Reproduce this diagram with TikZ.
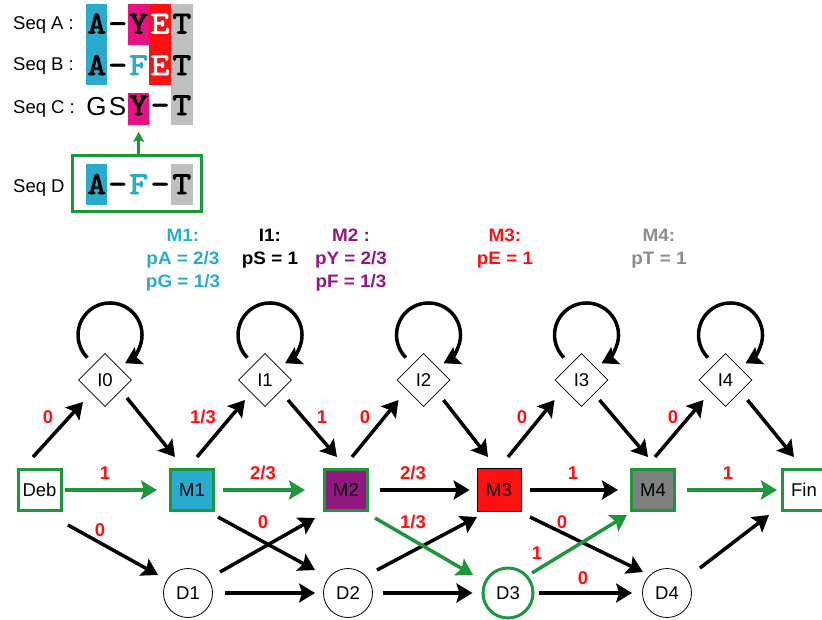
\documentclass[tikz,border=0pt]{standalone}
\usepackage{fontspec}
\setmainfont{Liberation Sans}
\newfontfamily\topfont[FakeStretch=1.05]{Liberation Sans}
\newfontfamily\seqfont{lmmono10-regular.otf}[FakeBold=2.5,FakeStretch=1.12]
\usetikzlibrary{arrows.meta,shapes.geometric}
\definecolor{cyanC}{RGB}{41,171,206}
\definecolor{magC}{RGB}{230,20,130}
\definecolor{redC}{RGB}{255,16,16}
\definecolor{grayBg}{RGB}{191,191,191}
\definecolor{grayM}{RGB}{128,128,128}
\definecolor{grayT}{RGB}{140,140,140}
\definecolor{purpC}{RGB}{148,22,128}
\definecolor{grnC}{RGB}{30,150,60}
\begin{document}
\begin{tikzpicture}[x=1pt,y=-1pt,
  arr/.style={line width=3.5pt,-{Stealth[length=16pt,width=19pt,inset=3pt]}},
  garr/.style={arr,draw=grnC},
  garrs/.style={line width=2.5pt,draw=grnC,-{Stealth[length=10pt,width=11pt,inset=2pt]}},
  nfont/.style={font=\fontsize{18.5}{20}\selectfont},
  sq/.style={rectangle,inner sep=0pt,minimum width=43,minimum height=41,nfont},
  gsq/.style={sq,draw=grnC,line width=3pt},
  dia/.style={diamond,draw,line width=0.8pt,inner sep=0pt,minimum size=53,nfont},
  circ/.style={circle,draw,line width=0.8pt,inner sep=0pt,minimum size=49,nfont},
  lab/.style={font=\bfseries\fontsize{18.5}{20}\selectfont,text=redC,inner sep=0pt},
  tl/.style={font=\topfont\bfseries\fontsize{18}{20}\selectfont,anchor=base,inner sep=0pt},
  seql/.style={font=\fontsize{18.5}{20}\selectfont,anchor=base west,inner sep=0pt},
  lt/.style={font=\seqfont\fontsize{32}{33}\selectfont,anchor=base,inner sep=0pt},
  ls/.style={font=\fontsize{26}{28}\selectfont,anchor=base,inner sep=0pt},
  bg/.style={rectangle,inner sep=0pt,minimum width=21.5,draw=none}
]
\useasboundingbox (0,0) rectangle (822,619);

% ---------- alignment panel ----------
\node[bg,fill=cyanC,minimum height=81] (bgA1) at (96.7,44.5) {};
\node[bg,fill=magC,minimum height=41] (bgA3) at (138.7,24.5) {};
\node[bg,fill=redC,minimum height=81] (bgA4) at (160.1,44.5) {};
\node[bg,fill=grayBg,minimum height=121] (bgA5) at (181.8,64.5) {};
\node[bg,fill=magC,minimum height=32.3] (bgC3) at (138.7,108.85) {};
\node[bg,fill=cyanC,minimum height=41] (bgD1) at (96.7,184.5) {};
\node[bg,fill=grayBg,minimum height=41] (bgD5) at (181.8,184.5) {};

\node[seql] (sA) at (13,29.5) {Seq A :};
\node[seql] (sB) at (13,70.5) {Seq B :};
\node[seql] (sC) at (13,113.5) {Seq C :};
\node[seql] (sD) at (13,192) {Seq D :};

\node[lt] (a1) at (96.7,33.5) {A};
\node[lt] (a2) at (117.7,33.5) {-};
\node[lt] (a3) at (138.7,33.5) {Y};
\node[lt,text=white] (a4) at (160.1,33.5) {E};
\node[lt] (a5) at (181.8,33.5) {T};

\node[lt] (b1) at (96.7,75) {A};
\node[lt] (b2) at (117.7,75) {-};
\node[lt,text=cyanC] (b3) at (138.7,75) {F};
\node[lt,text=white] (b4) at (160.1,75) {E};
\node[lt] (b5) at (181.8,75) {T};

\node[ls] (c1) at (96.5,115) {G};
\node[ls] (c2) at (117.5,115) {S};
\node[lt] (c3) at (138.7,115) {Y};
\node[lt] (c4) at (160.1,115) {-};
\node[lt] (c5) at (181.8,115) {T};

\node[lt] (d1) at (96.7,194) {A};
\node[lt] (d2) at (117.7,194) {-};
\node[lt,text=cyanC] (d3) at (138.7,194) {F};
\node[lt] (d4) at (160.1,194) {-};
\node[lt] (d5) at (181.8,194) {T};

\node[rectangle,draw=grnC,line width=3pt,inner sep=0pt,minimum width=129.5,minimum height=56.3] (boxD) at (137,183.7) {};
\draw[garrs] (boxD.north -| bgC3.south) -- ([yshift=-6.7pt]bgC3.south);

% ---------- emission labels ----------
\node[tl,text=cyanC] (t1a) at (183,241) {M1:};
\node[tl,text=cyanC] (t1b) at (183,264.5) {pA = 2/3};
\node[tl,text=cyanC] (t1c) at (183,287.5) {pG = 1/3};
\node[tl] (t2a) at (270,241) {I1:};
\node[tl] (t2b) at (270,264.5) {pS = 1};
\node[tl,text=purpC] (t3a) at (351,241) {M2 :};
\node[tl,text=purpC] (t3b) at (351,264.5) {pY = 2/3};
\node[tl,text=purpC] (t3c) at (351,287.5) {pF = 1/3};
\node[tl,text=redC] (t4a) at (505,241) {M3:};
\node[tl,text=redC] (t4b) at (505,264.5) {pE = 1};
\node[tl,text=grayT] (t5a) at (659,241) {M4:};
\node[tl,text=grayT] (t5b) at (659,264.5) {pT = 1};

% ---------- HMM nodes ----------
\node[gsq] (Deb) at (39.5,490) {Deb};
\node[gsq,fill=cyanC] (M1) at (192,490) {M1};
\node[gsq,fill=purpC] (M2) at (346,490) {M2};
\node[sq,draw,line width=0.8pt,fill=redC,minimum width=44,minimum height=43] (M3) at (499,490) {M3};
\node[gsq,fill=grayM] (M4) at (653,490) {M4};
\node[gsq] (Fin) at (804,490) {Fin};

\node[dia] (I0) at (105,380) {I0};
\node[dia] (I1) at (265,380) {I1};
\node[dia] (I2) at (423.5,380) {I2};
\node[dia] (I3) at (581.5,380) {I3};
\node[dia] (I4) at (725.5,380) {I4};

\node[circ] (D1) at (188,593) {D1};
\node[circ] (D2) at (348,593) {D2};
\node[circ,draw=grnC,line width=3pt,minimum size=50] (D3) at (508,593) {D3};
\node[circ] (D4) at (667,593) {D4};

% ---------- self loops ----------
\foreach \n in {I0,I1,I2,I3,I4}
  \draw[arr] ([shift={(-17.6,-22.4)}]\n.center) arc[start angle=225,end angle=-62,radius=32pt];

% ---------- up diagonals ----------
\draw[arr] ([shift={(-6.5,-33)}]Deb.center) -- ([shift={(-22,22)}]I0.center);
\draw[arr] ([shift={(5,-33)}]M1.center) -- ([shift={(-20,20)}]I1.center);
\draw[arr] ([shift={(6,-33)}]M2.center) -- ([shift={(-25,20)}]I2.center);
\draw[arr] ([shift={(9,-33)}]M3.center) -- ([shift={(-27,20)}]I3.center);
\draw[arr] ([shift={(2,-33)}]M4.center) -- ([shift={(-22,20)}]I4.center);
% ---------- down diagonals ----------
\draw[arr] ([shift={(22,18)}]I0.center) -- ([shift={(-17,-33)}]M1.center);
\draw[arr] ([shift={(23,20)}]I1.center) -- ([shift={(-9,-33)}]M2.center);
\draw[arr] ([shift={(20,20)}]I2.center) -- ([shift={(-11,-33)}]M3.center);
\draw[arr] ([shift={(18,20)}]I3.center) -- ([shift={(-5,-33)}]M4.center);
\draw[arr] ([shift={(22,20)}]I4.center) -- ([shift={(-10,-33)}]Fin.center);
% ---------- horizontals ----------
\draw[arr,shorten <=11pt,shorten >=7pt] (M2.east) -- (M3.west);
\draw[arr,shorten <=9pt,shorten >=12pt] (M3.east) -- (M4.west);
\draw[arr,shorten <=12pt,shorten >=8pt] (D1.east) -- (D2.west);
\draw[arr,shorten <=10pt,shorten >=9pt] (D2.east) -- (D3.west);
\draw[arr,shorten <=4pt,shorten >=10pt] (D3.east) -- (D4.west);
% ---------- lower diagonals ----------
\draw[arr] ([shift={(28.5,35)}]Deb.center) -- ([shift={(-30,-18)}]D1.center);
\draw[arr] ([shift={(26,27)}]M1.center) -- ([shift={(-33,-23)}]D2.center);
\draw[arr] ([shift={(32,-21)}]D1.center) -- ([shift={(-31,28)}]M2.center);
\draw[arr] ([shift={(29,-23)}]D2.center) -- ([shift={(-22,27)}]M3.center);
\draw[arr] ([shift={(31,27)}]M3.center) -- ([shift={(-24,-21)}]D4.center);
\draw[arr] ([shift={(33,-25)}]D4.center) -- ([shift={(-35,25)}]Fin.center);
% ---------- green path ----------
\draw[garr,shorten <=2pt,shorten >=12pt] (Deb.east) -- (M1.west);
\draw[garr,shorten <=8pt,shorten >=18pt] (M1.east) -- (M2.west);
\draw[garr] ([shift={(29,28)}]M2.center) -- ([shift={(-35,-18)}]D3.center);
\draw[garr] ([shift={(24,-20)}]D3.center) -- ([shift={(-26,25)}]M4.center);
\draw[garr,shorten <=11pt,shorten >=4pt] (M4.east) -- (Fin.west);

% ---------- transition labels ----------
\node[lab] (l1) at (48,417) {0};
\node[lab] (l2) at (105,473) {1};
\node[lab] (l3) at (100,530) {0};
\node[lab] (l4) at (203,417) {1/3};
\node[lab] (l5) at (263,473) {2/3};
\node[lab] (l6) at (263,522) {0};
\node[lab] (l7) at (322,417) {1};
\node[lab] (l8) at (365,417) {0};
\node[lab] (l9) at (413,473) {2/3};
\node[lab] (l10) at (413,522) {1/3};
\node[lab] (l11) at (522,417) {0};
\node[lab] (l12) at (537,553) {1};
\node[lab] (l13) at (573,473) {1};
\node[lab] (l14) at (562,522) {0};
\node[lab] (l15) at (583,578) {0};
\node[lab] (l16) at (673,417) {0};
\node[lab] (l17) at (728,473) {1};
\end{tikzpicture}
\end{document}
